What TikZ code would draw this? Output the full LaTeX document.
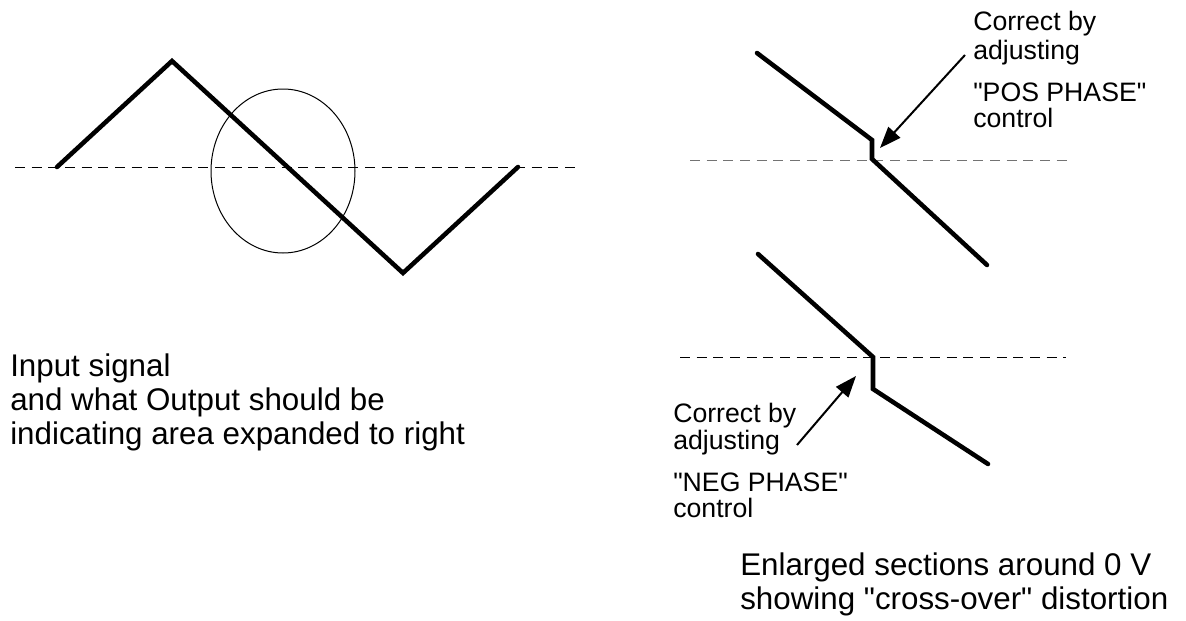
\documentclass[tikz,border=0pt]{standalone}
\usepackage{fontspec}
\setmainfont{Liberation Sans}[Ligatures=TeXOff]
\usetikzlibrary{arrows.meta}
\begin{document}
\begin{tikzpicture}[x=0.75pt,y=-0.75pt,
  wave/.style={line width=3.4pt, line cap=round, line join=miter},
  zeroline/.style={line width=0.75pt, dash pattern=on 7.5pt off 5pt},
  pointer/.style={line width=1.5pt, -{Triangle[length=16pt,width=12pt]}},
  bigtext/.style={anchor=base west, inner sep=0pt, font=\fontsize{23.5}{27}\selectfont},
  smalltext/.style={anchor=base west, inner sep=0pt, font=\fontsize{20}{24}\selectfont}]
\useasboundingbox (0,0) rectangle (1186,621);

% ---- input signal with zero line and marked region ----
\coordinate (z0) at (15,167);
\coordinate (z1) at (578,167);
\draw[zeroline] (z0) -- (z1);
\coordinate (w0) at (57,167);
\coordinate (w1) at (172,61);
\coordinate (w2) at (403,273);
\coordinate (w3) at (518,167);
\draw[wave] (w0) -- (w1) -- (w2) -- (w3);
\coordinate (mark) at (283,171);
\draw[line width=0.75pt] (mark) ellipse [x radius=72, y radius=82];

\node[bigtext] (in1) at (10,376) {Input signal};
\node[bigtext] (in2) at (10,410) {and what Output should be};
\node[bigtext] (in3) at (10,444) {indicating area expanded to right};

% ---- upper enlargement: positive side step ----
\coordinate (pz0) at (690,160);
\coordinate (pz1) at (1073,160);
\draw[zeroline, draw=black!55] (pz0) -- (pz1);
\coordinate (p0) at (757,53);
\coordinate (p1) at (872,140);
\coordinate (p2) at (872,159);
\coordinate (p3) at (987,265);
\draw[wave] (p0) -- (p1) -- (p2) -- (p3);
\coordinate (pa0) at (965,55);
\coordinate (pa1) at (880,148);
\draw[pointer] (pa0) -- (pa1);
\node[smalltext] (pt1) at (973,31) {Correct by};
\node[smalltext] (pt2) at (973,60) {adjusting};
\node[smalltext] (pt3) at (973,101) {"POS PHASE"};
\node[smalltext] (pt4) at (973,127) {control};

% ---- lower enlargement: negative side step ----
\coordinate (nz0) at (680,357);
\coordinate (nz1) at (1066,357);
\draw[zeroline] (nz0) -- (nz1);
\coordinate (n0) at (758,254);
\coordinate (n1) at (873,357);
\coordinate (n2) at (873,389);
\coordinate (n3) at (988,464);
\draw[wave] (n0) -- (n1) -- (n2) -- (n3);
\coordinate (na0) at (797,445);
\coordinate (na1) at (856,376);
\draw[pointer] (na0) -- (na1);
\node[smalltext] (nt1) at (673,422) {Correct by};
\node[smalltext] (nt2) at (673,449) {adjusting};
\node[smalltext] (nt3) at (673,491) {"NEG PHASE"};
\node[smalltext] (nt4) at (673,517) {control};

% ---- caption ----
\node[bigtext] (cap1) at (740,575) {Enlarged sections around 0 V};
\node[bigtext] (cap2) at (740,609) {showing "cross-over" distortion};
\end{tikzpicture}
\end{document}
